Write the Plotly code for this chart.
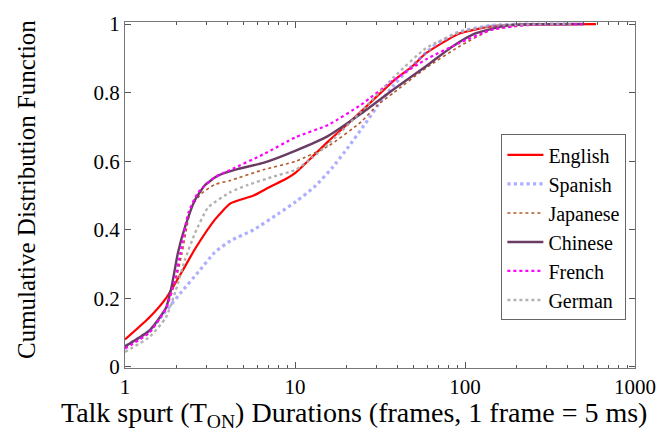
import plotly.graph_objects as go

# ---- data ----
english_x = [1, 1.39, 1.74, 2.16, 2.58, 3.37, 4.17, 5.71, 7.1, 8.87, 10.1, 12.6, 15.7, 22.4, 38.1, 49, 59, 92, 143, 250, 590]
english_y = [0.08, 0.144, 0.20, 0.277, 0.344, 0.429, 0.477, 0.50, 0.525, 0.549, 0.567, 0.612, 0.658, 0.727, 0.835, 0.877, 0.915, 0.972, 0.993, 0.999, 1.0]

spanish_x = [1, 1.39, 1.74, 2.16, 2.70, 3.37, 4.17, 5.7, 8.1, 10.1, 13.0, 16.5, 20.5, 25.5, 31.0, 38.1, 47.5, 64.6, 92, 143, 250, 400]
spanish_y = [0.06, 0.106, 0.163, 0.22, 0.277, 0.334, 0.368, 0.40, 0.449, 0.482, 0.525, 0.580, 0.640, 0.705, 0.765, 0.822, 0.872, 0.934, 0.977, 0.996, 1.0, 1.0]

japanese_x = [1, 1.39, 1.74, 1.98, 2.16, 2.46, 2.82, 3.37, 4.17, 6.5, 10.1, 15.7, 24.5, 30.4, 38.1, 59, 92, 143, 220, 450]
japanese_y = [0.055, 0.10, 0.17, 0.25, 0.33, 0.467, 0.506, 0.532, 0.544, 0.575, 0.60, 0.644, 0.715, 0.763, 0.80, 0.872, 0.934, 0.983, 0.996, 1.0]

chinese_x = [1, 1.39, 1.74, 1.89, 2.05, 2.26, 2.58, 2.95, 3.52, 4.58, 6.5, 10.1, 15.7, 24.5, 38.1, 59, 84, 114, 179, 500]
chinese_y = [0.06, 0.106, 0.172, 0.24, 0.334, 0.41, 0.487, 0.53, 0.558, 0.577, 0.595, 0.631, 0.674, 0.739, 0.81, 0.877, 0.934, 0.972, 0.996, 1.0]

french_x = [1, 1.39, 1.74, 1.98, 2.12, 2.36, 2.70, 3.37, 4.17, 6.5, 10.1, 15.7, 24.5, 38.1, 59, 92, 143, 220, 490]
french_y = [0.054, 0.10, 0.17, 0.26, 0.334, 0.45, 0.51, 0.553, 0.575, 0.62, 0.670, 0.706, 0.765, 0.837, 0.897, 0.944, 0.983, 0.996, 1.0]

german_x = [1, 1.39, 1.74, 1.98, 2.26, 2.58, 3.08, 4.17, 5.23, 7.44, 10.1, 12.6, 15.7, 24.5, 38.1, 59, 92, 143, 420]
german_y = [0.044, 0.087, 0.144, 0.22, 0.315, 0.39, 0.465, 0.51, 0.53, 0.555, 0.575, 0.61, 0.65, 0.745, 0.845, 0.93, 0.975, 0.995, 1.0]

names = ["English", "Spanish", "Japanese", "Chinese", "French", "German"]
x_tick_vals = [1, 10, 100, 1000]
x_tick_text = ["1", "10", "100", "1000"]
y_tick_vals = [0, 0.2, 0.4, 0.6, 0.8, 1]
y_tick_text = ["0", "0.2", "0.4", "0.6", "0.8", "1"]
x_title = "Talk spurt (T<sub>ON</sub>) Durations (frames, 1 frame = 5 ms)"
y_title = "Cumulative Distribution Function"

series = [
    (english_x, english_y, dict(color="#ff0000", width=2.2, dash="solid")),
    (spanish_x, spanish_y, dict(color="rgba(140,140,255,0.7)", width=3.2, dash="dot")),
    (japanese_x, japanese_y, dict(color="#b0582a", width=1.6, dash="dot")),
    (chinese_x, chinese_y, dict(color="#6a3c63", width=2.4, dash="solid")),
    (french_x, french_y, dict(color="#ff00ff", width=2.2, dash="dot")),
    (german_x, german_y, dict(color="rgba(170,170,170,0.9)", width=2.4, dash="dot")),
]

fig = go.Figure()
for name, (xs, ys, ln) in zip(names, series):
    fig.add_trace(go.Scatter(x=xs, y=ys, mode="lines", name=name,
                             line=dict(shape="spline", smoothing=0.5, **ln)))

font_family = "'Liberation Serif', 'Times New Roman', Times, serif"
minor_vals = [m * d for d in (1, 10, 100) for m in range(2, 10)]

fig.update_layout(
    width=668, height=437,
    margin=dict(l=125, r=21, t=15, b=69),
    paper_bgcolor="white", plot_bgcolor="white",
    font=dict(family=font_family, color="black", size=21),
    showlegend=True,
    legend=dict(x=0.738, y=0.675, xanchor="left", yanchor="top",
                bgcolor="white", bordercolor="#666", borderwidth=1,
                font=dict(family=font_family, size=20, color="black"),
                tracegroupgap=0, itemwidth=36),
    xaxis=dict(type="log", range=[0, 3],
               tickvals=x_tick_vals, ticktext=x_tick_text,
               ticks="inside", ticklen=6, tickcolor="#555",
               showline=True, linecolor="#777", linewidth=1, mirror="allticks",
               showgrid=False, zeroline=False,
               tickfont=dict(size=21, family=font_family),
               minor=dict(tickvals=minor_vals, ticks="inside", ticklen=3,
                          tickcolor="#555", showgrid=False)),
    yaxis=dict(range=[-0.003, 1.006],
               tickvals=y_tick_vals, ticktext=y_tick_text,
               ticks="inside", ticklen=6, tickcolor="#555",
               showline=True, linecolor="#777", linewidth=1, mirror="allticks",
               showgrid=False, zeroline=False,
               tickfont=dict(size=21, family=font_family)),
    annotations=[
        dict(text=x_title, xref="paper", yref="paper", x=0.449, y=-0.133,
             xanchor="center", yanchor="middle", showarrow=False,
             font=dict(size=28, family=font_family, color="black")),
        dict(text=y_title, xref="paper", yref="paper", x=-0.193, y=0.516,
             xanchor="center", yanchor="middle", showarrow=False, textangle=-90,
             font=dict(size=25, family=font_family, color="black")),
    ],
)

fig.write_html("out.html")
